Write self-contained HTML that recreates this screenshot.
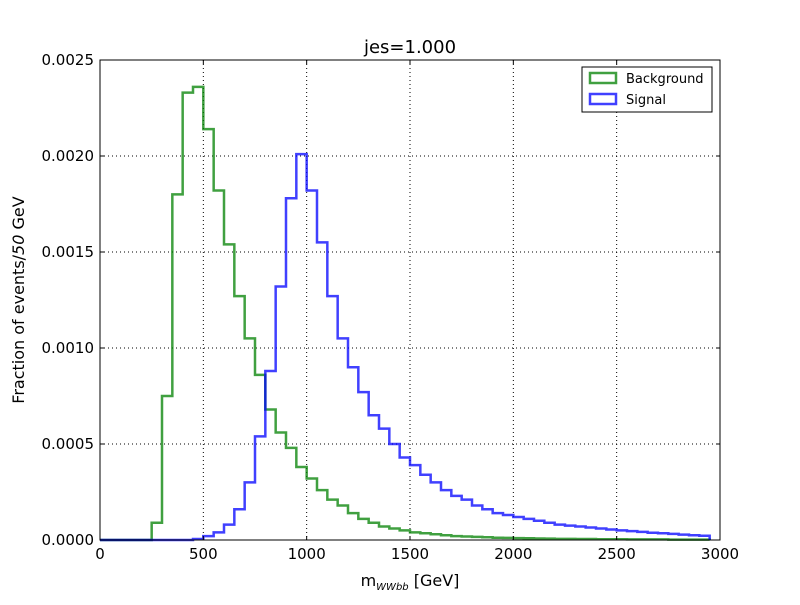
<!DOCTYPE html>
<html><head><meta charset="utf-8"><style>
body{margin:0;background:#fff;width:800px;height:600px;overflow:hidden}
svg{font-family:"DejaVu Sans","Liberation Sans",sans-serif}
</style></head><body>
<svg id="c" width="800" height="600"></svg>
<script>
const binWidth = 50;
const bgValues = [0,0,0,0,0,0.00009,0.00075,0.0018,0.00233,0.00236,0.00214,0.00182,0.00154,0.00127,0.00105,0.00086,0.00068,0.00056,0.00048,0.00038,0.00032,0.00026,0.00021,0.00018,0.00014,0.00011,0.00009,0.00007,0.00006,0.00005,0.00004,0.000035,0.00003,0.000025,0.00002,0.000018,0.000016,0.000014,0.000012,0.000011,0.00001,0.000009,0.000008,0.000007,0.000006,0.000006,0.000005,0.000005,0.000004,0.000004,0.000004,0.000003,0.000003,0.000003,0.000003,0.000002,0.000002,0.000002,0.000002];
const sigValues = [0,0,0,0,0,0,0,0,0,0.000005,0.00002,0.00004,0.00008,0.00016,0.0003,0.00054,0.00088,0.00132,0.00178,0.00201,0.00182,0.00155,0.00127,0.00105,0.0009,0.00077,0.00065,0.00058,0.0005,0.00043,0.00039,0.00034,0.0003,0.00026,0.00023,0.00021,0.00018,0.00016,0.00014,0.00013,0.00012,0.00011,0.0001,0.00009,0.00008,0.000075,0.00007,0.000065,0.00006,0.000055,0.00005,0.000046,0.000042,0.000038,0.000035,0.000032,0.000028,0.000025,0.000022];
const xTicks = [0,500,1000,1500,2000,2500,3000];
const yTicks = [0,0.0005,0.001,0.0015,0.002,0.0025];
const yTickLabels = ["0.0000","0.0005","0.0010","0.0015","0.0020","0.0025"];
const L=100,R=720,T=60,B=540;
const sx=v=>L+(v/3000)*(R-L);
const sy=v=>B-(v/0.0025)*(B-T);
const svg=document.getElementById('c');
const NS='http://www.w3.org/2000/svg';
function mk(tag,attrs){const e=document.createElementNS(NS,tag);for(const k in attrs)e.setAttribute(k,attrs[k]);svg.appendChild(e);return e;}
let e;
xTicks.forEach(v=>{if(v>0&&v<3000){e=mk('line',{x1:sx(v),x2:sx(v),y1:T,y2:B,stroke:'#000','stroke-dasharray':'1,3','stroke-width':1});

}});
yTicks.forEach(v=>{if(v>0&&v<0.0025){e=mk('line',{x1:L,x2:R,y1:sy(v),y2:sy(v),stroke:'#000','stroke-dasharray':'1,3','stroke-width':1});

}});
function step(vals,color,name){
  let d='M'+sx(0)+','+sy(vals[0]);
  vals.forEach((v,i)=>{d+=' L'+sx(i*binWidth)+','+sy(v)+' L'+sx((i+1)*binWidth)+','+sy(v);});
  d+=' L'+sx(vals.length*binWidth)+','+sy(0);
  const p=mk('path',{d:d,fill:'none',stroke:color,'stroke-width':2.5,'stroke-opacity':0.75});
  
  
}
step(bgValues,'#008000','background-histogram');
step(sigValues,'#0000ff','signal-histogram');
e=mk('rect',{x:L,y:T,width:R-L,height:B-T,fill:'none',stroke:'#000','stroke-width':1});


xTicks.forEach(v=>{
  mk('line',{x1:sx(v),x2:sx(v),y1:B,y2:B-4,stroke:'#000'});
  mk('line',{x1:sx(v),x2:sx(v),y1:T,y2:T+4,stroke:'#000'});
  e=mk('text',{x:sx(v),y:B+19,'text-anchor':'middle','font-size':15});e.textContent=v;
  
  
});
yTicks.forEach((v,i)=>{
  mk('line',{x1:L,x2:L+4,y1:sy(v),y2:sy(v),stroke:'#000'});
  mk('line',{x1:R,x2:R-4,y1:sy(v),y2:sy(v),stroke:'#000'});
  e=mk('text',{x:L-6,y:sy(v)+5,'text-anchor':'end','font-size':15});e.textContent=yTickLabels[i];
  
  
});
</script>
<svg width="800" height="600" style="position:absolute;left:0;top:0">
<text x="410" y="53" text-anchor="middle" font-size="18">jes=1.000</text>
<text x="410" y="586" text-anchor="middle" font-size="16">m<tspan font-size="10" font-style="italic" dy="4">WWbb</tspan><tspan dy="-4"> [GeV]</tspan></text>
<text transform="translate(24,300) rotate(-90)" text-anchor="middle" font-size="16">Fraction of events/<tspan font-style="italic">50</tspan> GeV</text>
<g>
<rect x="582" y="67" width="130" height="45" fill="#fff" stroke="#000"/>
<g><rect x="590" y="73" width="26" height="10" fill="none" stroke="#008000" stroke-opacity="0.75" stroke-width="2.5"/><text x="626" y="83" font-size="13">Background</text></g>
<g><rect x="590" y="94" width="26" height="10" fill="none" stroke="#0000ff" stroke-opacity="0.75" stroke-width="2.5"/><text x="626" y="104" font-size="13">Signal</text></g>
</g>
</svg>
</body></html>
